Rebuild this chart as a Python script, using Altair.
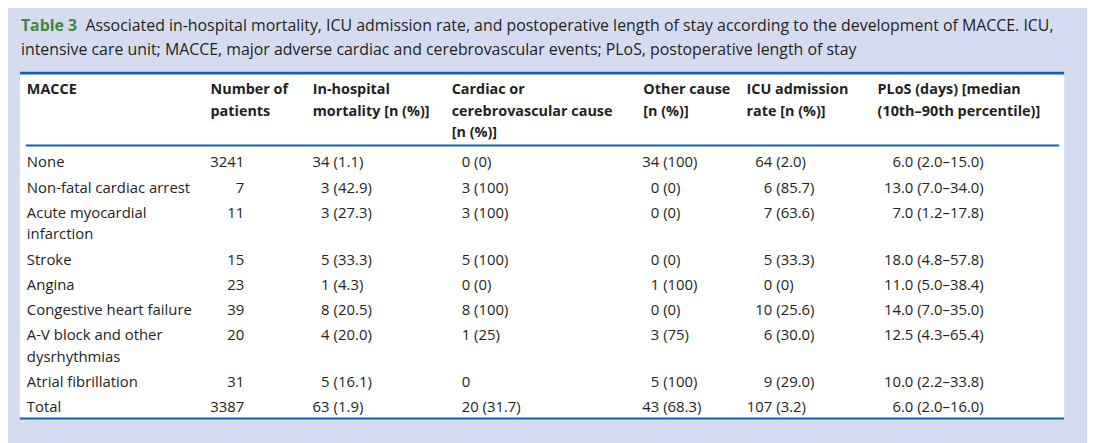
import altair as alt
import pandas as pd

# ---------------- data ----------------
title_tag = "Table 3"
title_line1 = "Associated in-hospital mortality, ICU admission rate, and postoperative length of stay according to the development of MACCE. ICU,"
title_line2 = "intensive care unit; MACCE, major adverse cardiac and cerebrovascular events; PLoS, postoperative length of stay"

headers = [
    ["MACCE"],
    ["Number of", "patients"],
    ["In-hospital", "mortality [n (%)]"],
    ["Cardiac or", "cerebrovascular cause", "[n (%)]"],
    ["Other cause", "[n (%)]"],
    ["ICU admission", "rate [n (%)]"],
    ["PLoS (days) [median", "(10th\u201390th percentile)]"],
]

macce = ["None", "Non-fatal cardiac arrest", "Acute myocardial\ninfarction", "Stroke", "Angina",
         "Congestive heart failure", "A-V block and other\ndysrhythmias", "Atrial fibrillation", "Total"]
patients = [3241, 7, 11, 15, 23, 39, 20, 31, 3387]
mortality = ["34 (1.1)", "3 (42.9)", "3 (27.3)", "5 (33.3)", "1 (4.3)", "8 (20.5)", "4 (20.0)", "5 (16.1)", "63 (1.9)"]
cardiac = ["0 (0)", "3 (100)", "3 (100)", "5 (100)", "0 (0)", "8 (100)", "1 (25)", "0", "20 (31.7)"]
other = ["34 (100)", "0 (0)", "0 (0)", "0 (0)", "1 (100)", "0 (0)", "3 (75)", "5 (100)", "43 (68.3)"]
icu = ["64 (2.0)", "6 (85.7)", "7 (63.6)", "5 (33.3)", "0 (0)", "10 (25.6)", "6 (30.0)", "9 (29.0)", "107 (3.2)"]
plos = ["6.0 (2.0\u201315.0)", "13.0 (7.0\u201334.0)", "7.0 (1.2\u201317.8)", "18.0 (4.8\u201357.8)",
        "11.0 (5.0\u201338.4)", "14.0 (7.0\u201335.0)", "12.5 (4.3\u201365.4)", "10.0 (2.2\u201333.8)",
        "6.0 (2.0\u201316.0)"]

# ---------------- layout (page pixel positions) ----------------
W, H = 1087, 435
OFF = 8
BG = "#d5dcf2"
BLUE = "#0b63b4"
GREEN = "#3a8a3a"
INK = "#231f20"
FONT = "Open Sans"

hdr_x = [27, 212, 315, 455, 648, 752, 884]
hdr_base0, hdr_step = 93.5, 21.5
row_base0, row_step, line_step = 167, 25.3, 22

xs = alt.Scale(domain=[0, W], range=[0, W])
ys = alt.Scale(domain=[0, H], range=[0, H])


def P(v):
    return v - OFF


left_cells, right_cells, hdr_cells = [], [], []

for i, lines in enumerate(headers):
    for j, t in enumerate(lines):
        hdr_cells.append({"t": t, "x": P(hdr_x[i]), "y": P(hdr_base0 + j * hdr_step)})


def split_cell(s, split_x, y):
    parts = s.split(" ", 1)
    right_cells.append({"t": parts[0], "x": P(split_x), "y": y})
    if len(parts) > 1:
        left_cells.append({"t": parts[1], "x": P(split_x + 4), "y": y})


y = row_base0
for r in range(len(macce)):
    yy = P(y)
    for k, ln in enumerate(macce[r].split("\n")):
        left_cells.append({"t": ln, "x": P(27), "y": P(y + k * line_step)})
    right_cells.append({"t": str(patients[r]), "x": P(246), "y": yy})
    split_cell(mortality[r], 332, yy)
    left_cells.append({"t": cardiac[r], "x": P(465), "y": yy})
    split_cell(other[r], 664, yy)
    split_cell(icu[r], 778, yy)
    right_cells.append({"t": plos[r], "x": P(991), "y": yy})
    y += row_step + (len(macce[r].split("\n")) - 1) * line_step

enc = dict(
    x=alt.X("x:Q", scale=xs, axis=None),
    y=alt.Y("y:Q", scale=ys, axis=None),
    text="t:N",
)

one = pd.DataFrame({"k": [0]})

box = alt.Chart(one).mark_rect(color="white").encode(
    x=alt.value(P(20)), x2=alt.value(P(1072)), y=alt.value(P(71)), y2=alt.value(P(420)))


def rule(x1, x2, yv, sw):
    return alt.Chart(one).mark_rule(color=BLUE, strokeWidth=sw).encode(
        x=alt.value(P(x1)), x2=alt.value(P(x2)), y=alt.value(P(yv)))


rules = rule(20, 1072, 72, 2.6) + rule(26, 1067, 145, 2) + rule(20, 1072, 420, 2)

title_df_tag = pd.DataFrame([{"t": title_tag, "x": P(21), "y": P(29.3)}])
title_df = pd.DataFrame([{"t": title_line1, "x": P(86), "y": P(29.3)},
                         {"t": title_line2, "x": P(21), "y": P(53.5)}])

t_tag = alt.Chart(title_df_tag).mark_text(align="left", baseline="alphabetic", font=FONT, fontSize=16,
                                          fontWeight="bold", color=GREEN).encode(**enc)
t_txt = alt.Chart(title_df).mark_text(align="left", baseline="alphabetic", font=FONT, fontSize=16,
                                      color=INK).encode(**enc)
h_txt = alt.Chart(pd.DataFrame(hdr_cells)).mark_text(align="left", baseline="alphabetic", font=FONT,
                                                     fontSize=14.5, fontWeight="bold", color=INK).encode(**enc)
l_txt = alt.Chart(pd.DataFrame(left_cells)).mark_text(align="left", baseline="alphabetic", font=FONT,
                                                      fontSize=15, color=INK).encode(**enc)
r_txt = alt.Chart(pd.DataFrame(right_cells)).mark_text(align="right", baseline="alphabetic", font=FONT,
                                                       fontSize=15, color=INK).encode(**enc)

chart = alt.layer(box, rules, t_tag, t_txt, h_txt, l_txt, r_txt).properties(
    width=W, height=H, padding=0, background=BG,
    autosize=alt.AutoSizeParams(type="none"),
).configure_view(stroke=None)

chart.save("out.html", embed_options={"renderer": "svg", "actions": False})
